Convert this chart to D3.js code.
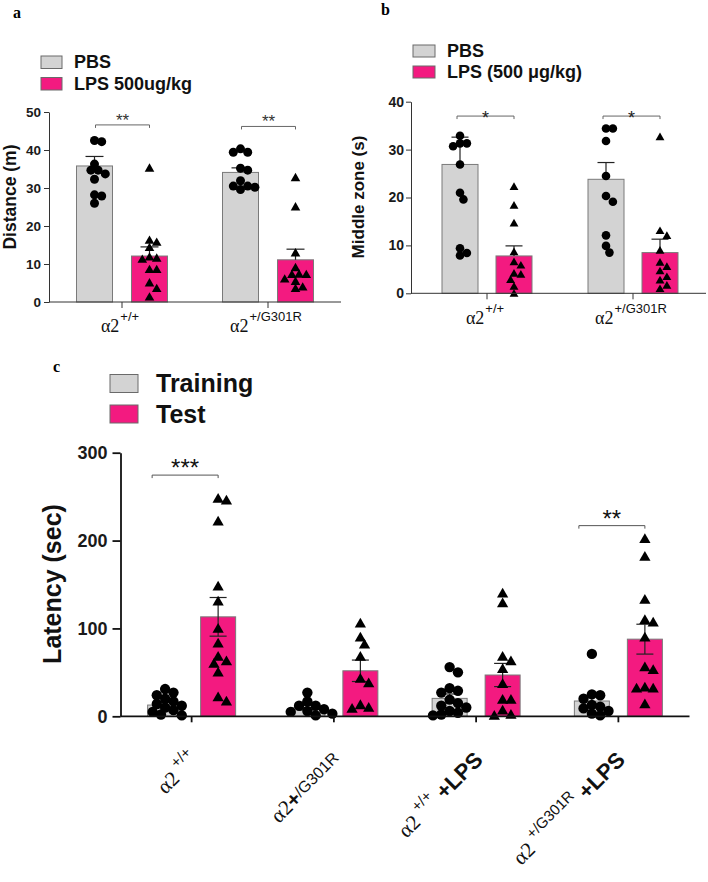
<!DOCTYPE html>
<html><head><meta charset="utf-8">
<script src="https://cdn.jsdelivr.net/npm/d3@7"></script>
<style>
body{margin:0;background:#fff}
text{font-family:Arial,"Liberation Sans",sans-serif}
</style>
</head><body><script>
// ---------------- DATA ----------------
const abGroups = ["wt", "mut"];
const abLabelParts = [
  [["α2", "base"], ["+/+", "sup"]],
  [["α2", "base"], ["+/G301R", "sup"]]
];

// panel a : Distance (m)
const aLegend = ["PBS", "LPS 500ug/kg"];
const aTicks = [0, 10, 20, 30, 40, 50];
const aPBSMean = [35.8, 34.1];
const aPBSSem = [2.5, 1.2];
const aLPSMean = [12.1, 11.1];
const aLPSSem = [2.4, 2.8];
const aPBSPts = [[42.5, 42.2, 36.3, 34.7, 33.7, 34.7, 32.3, 28.2, 27.9, 26.0],
                 [40.3, 39.4, 39.4, 35.2, 34.7, 31.9, 30.5, 29.6, 30.2, 30.5]];
const aLPSPts = [[35.3, 15.8, 16.3, 14.4, 11.9, 11.3, 11.6, 8.6, 8.6, 5.1, 3.6, 1.4],
                 [32.8, 25.1, 13.0, 9.1, 7.3, 7.3, 7.4, 6.1, 5.5, 3.6, 4.0]];
const aSig = [{g: "wt", text: "**", v: 46.6}, {g: "mut", text: "**", v: 46.2}];

// panel b : Middle zone (s)
const bLegend = ["PBS", "LPS (500 μg/kg)"];
const bTicks = [0, 10, 20, 30, 40];
const bPBSMean = [26.9, 23.8];
const bPBSSem = [5.7, 3.5];
const bLPSMean = [7.8, 8.5];
const bLPSSem = [2.1, 2.8];
const bPBSPts = [[32.9, 31.3, 30.7, 31.3, 26.9, 21.0, 19.6, 9.4, 7.9, 8.4],
                 [34.4, 34.4, 31.8, 24.5, 19.1, 20.3, 12.1, 8.5, 9.9]];
const bLPSPts = [[22.3, 18.4, 14.7, 8.7, 6.6, 5.9, 4.2, 4.0, 2.9, 1.5, 0],
                 [32.7, 13.1, 12.1, 9.0, 5.6, 6.5, 4.7, 2.8, 3.5, 1.0, 1.7]];
const bSig = [{g: "wt", text: "*", v: 37}, {g: "mut", text: "*", v: 37}];

// panel c : Latency (sec)
const cGroups = ["wt", "mut", "wtLPS", "mutLPS"];
const cLegend = ["Training", "Test"];
const cTicks = [0, 100, 200, 300];
const cTrainMean = [12.8, 9.8, 20.4, 17.4];
const cTrainSem = [3, 2.5, 5, 6];
const cTestMean = [113.2, 51.8, 47.0, 87.8];
const cTestSem = [22, 12.2, 13.2, 17];
const cTrainPts = [[31, 27, 24, 20, 17, 14, 12, 10, 7, 5, 2, 1],
                   [27, 17, 12, 12, 8, 6, 5, 3, 1],
                   [56, 50, 32, 29, 27, 19, 15, 12, 10, 6, 4, 2, 1],
                   [71, 25, 24, 20, 13, 11, 9, 6, 3, 1]];
const cTestPts = [[248, 246, 222, 148, 131, 100, 83, 68, 63, 60, 50, 22, 17],
                  [106, 90, 82, 68, 43, 38, 13, 10, 9],
                  [140, 129, 68, 63, 54, 37, 19, 19, 7, 2, 1],
                  [202, 182, 133, 110, 107, 90, 56, 53, 33, 32, 32, 14]];
const cSig = [{g: "wt", text: "***", v: 274.5}, {g: "mutLPS", text: "**", v: 217}];
const cLabelParts = [
  [["α2", "base"], ["+/+", "sup"]],
  [["α2", "base"], ["+", "plus"], ["/G301R", "mid"]],
  [["α2", "base"], ["+/+", "sup"], ["+LPS", "bold"]],
  [["α2", "base"], ["+/G301R", "sup"], ["+LPS", "bold"]]
];

// ---------------- DRAWING ----------------
const GREY = "#d3d3d3", PINK = "#f31a80", EDGE = "#7a7a7a";
const W = 708, H = 882;
const svg = d3.select("body").append("svg").attr("width", W).attr("height", H);
svg.append("rect").attr("width", W).attr("height", H).attr("fill", "#fff");

function swarm(ys, r, sep, fac) {
  const idx = ys.map((y, i) => i).sort((a, b) => ys[a] - ys[b]);
  const placed = [], off = new Array(ys.length).fill(0);
  const md = (2 * r * fac) ** 2;
  for (const i of idx) {
    for (let k = 0; k < 60; k++) {
      const m = k === 0 ? 0 : (k % 2 ? Math.ceil(k / 2) : -k / 2);
      const x = m * sep;
      if (placed.every(p => (p.x - x) ** 2 + (p.y - ys[i]) ** 2 >= md)) {
        off[i] = x; placed.push({x, y: ys[i]}); break;
      }
    }
  }
  return off;
}

// rich text: parts laid out along a baseline, each part its own text element
function rich(g, parts, styles, anchor) {
  let x = 0; const nodes = [];
  parts.forEach(([txt, k]) => {
    const st = styles[k];
    x += st.gap || 0;
    const t = g.append("text").attr("x", x).attr("y", -st.raise)
      .style("font-family", st.ff).attr("font-size", st.fs).attr("font-weight", st.fw)
      .attr("fill", "#111").text(txt);
    x += t.node().getComputedTextLength();
    nodes.push(t);
  });
  const shift = anchor === "end" ? -x : anchor === "middle" ? -x / 2 : 0;
  nodes.forEach(t => t.attr("x", +t.attr("x") + shift));
}

function panel(o) {
  const g = svg.append("g");
  const cx = (c, si) => o.x(c) + o.x.bandwidth() / 2 + o.offs[si];
  o.series.forEach((s, si) => {
    g.selectAll(null).data(o.cats).enter().append("rect")
      .attr("x", (c) => cx(c, si) - o.bw / 2)
      .attr("y", (c, i) => o.y(s.mean[i]))
      .attr("width", o.bw)
      .attr("height", (c, i) => o.y(0) - o.y(s.mean[i]))
      .attr("fill", s.fill).attr("stroke", EDGE).attr("stroke-width", 1);
  });
  o.series.forEach((s, si) => {
    o.cats.forEach((c, i) => {
      const x = cx(c, si);
      const lo = o.errBoth ? s.mean[i] - s.sem[i] : s.mean[i];
      const hi = s.mean[i] + s.sem[i];
      g.append("line").attr("x1", x).attr("x2", x).attr("y1", o.y(lo)).attr("y2", o.y(hi))
        .attr("stroke", "#222").attr("stroke-width", 1.2);
      g.append("line").attr("x1", x - o.capW / 2).attr("x2", x + o.capW / 2)
        .attr("y1", o.y(hi)).attr("y2", o.y(hi)).attr("stroke", "#222").attr("stroke-width", 1.2);
      if (o.errBoth) {
        g.append("line").attr("x1", x - o.capW / 2).attr("x2", x + o.capW / 2)
          .attr("y1", o.y(lo)).attr("y2", o.y(lo)).attr("stroke", "#222").attr("stroke-width", 1.2);
      }
    });
  });
  o.series.forEach((s, si) => {
    o.cats.forEach((c, i) => {
      const vals = s.pts[i];
      const ys = vals.map(v => o.y(v));
      const offs = swarm(ys, o.r, o.r * 0.8, 0.78);
      const sym = s.shape === "tri"
        ? d3.symbol().type(d3.symbolTriangle).size(o.triSize)
        : d3.symbol().type(d3.symbolCircle).size(Math.PI * o.r * o.r);
      g.selectAll(null).data(vals).enter().append("path")
        .attr("d", sym)
        .attr("transform", (v, j) => `translate(${cx(c, si) + offs[j]},${ys[j] + (s.shape === "tri" ? 1 : 0)})`)
        .attr("fill", "#000");
    });
  });
  const ya = g.append("g").attr("transform", `translate(${o.x0},0)`)
    .call(d3.axisLeft(o.y).tickValues(o.ticks).tickSize(o.tickLen).tickSizeOuter(0).tickPadding(o.tickPad));
  ya.select(".domain").attr("stroke", o.axisColor).attr("stroke-width", o.axisW);
  ya.selectAll(".tick line").attr("stroke", o.axisColor).attr("stroke-width", o.axisW);
  ya.selectAll(".tick text").attr("font-size", o.tickFont).attr("font-weight", "bold")
    .attr("fill", "#1a1a1a").style("font-family", "Arial, 'Liberation Sans', sans-serif");
  const xa = g.append("g").attr("transform", `translate(0,${o.y(0)})`)
    .call(d3.axisBottom(o.x).tickSize(6).tickSizeOuter(0).tickFormat(""));
  xa.select(".domain").remove();
  xa.selectAll(".tick line").attr("stroke", o.axisColor).attr("stroke-width", o.axisW);
  g.append("line").attr("x1", o.x0).attr("x2", o.x1).attr("y1", o.y(0)).attr("y2", o.y(0))
    .attr("stroke", o.axisColor).attr("stroke-width", o.axisW);
  o.sig.forEach(sg => {
    const xl = cx(sg.g, 0) + o.sigOff, xr = cx(sg.g, 1);
    const yy = o.y(sg.v);
    g.append("path").attr("d", `M${xl},${yy + 3}V${yy}H${xr}V${yy + 3}`)
      .attr("fill", "none").attr("stroke", o.sigColor).attr("stroke-width", 1);
    g.append("text").attr("x", (xl + xr) / 2).attr("y", yy + o.sigDy)
      .attr("text-anchor", "middle").attr("font-size", o.sigFont).attr("fill", o.sigTextColor)
      .text(sg.text);
  });
  svg.append("text").attr("transform", `translate(${o.titleX},${o.titleY}) rotate(-90)`)
    .attr("text-anchor", "middle").attr("font-weight", "bold").attr("font-size", o.titleFont)
    .attr("fill", "#111").text(o.title);
  return cx;
}

function legend(x, y0, dy, bw, bh, fs, labels, textX) {
  [GREY, PINK].forEach((f, i) => {
    svg.append("rect").attr("x", x).attr("y", y0 + i * dy).attr("width", bw).attr("height", bh)
      .attr("fill", f).attr("stroke", "#6a6a6a").attr("stroke-width", 1);
    svg.append("text").attr("x", textX).attr("y", y0 + i * dy + bh - 0.5)
      .attr("font-size", fs).attr("font-weight", "bold").attr("fill", "#111").text(labels[i]);
  });
}

const SERIF = "'Liberation Serif', 'DejaVu Serif', serif";
const SANS = "Arial, 'Liberation Sans', sans-serif";
const abStyle = {
  base: {ff: SERIF, fs: 18, fw: "normal", raise: 0},
  sup: {ff: SANS, fs: 13, fw: "normal", raise: 11, gap: 1}
};
function abLabels(x, yBase) {
  abGroups.forEach((c, i) => {
    const g = svg.append("g").attr("transform", `translate(${x(c) + x.bandwidth() / 2 - 2},${yBase})`);
    rich(g, abLabelParts[i], abStyle, "middle");
  });
}

// ---- panel a ----
const yA = d3.scaleLinear().domain([0, 50]).range([302, 112]);
const xA = d3.scaleBand().domain(abGroups).range([49, 341]);
panel({
  x: xA, y: yA, cats: abGroups, x0: 49, x1: 341, offs: [-27.5, 27.5], bw: 36, capW: 18,
  series: [
    {mean: aPBSMean, sem: aPBSSem, pts: aPBSPts, fill: GREY, shape: "circle"},
    {mean: aLPSMean, sem: aLPSSem, pts: aLPSPts, fill: PINK, shape: "tri"}
  ],
  r: 4.5, triSize: 40, ticks: aTicks, tickLen: 5, tickPad: 3, tickFont: 13.5,
  axisColor: "#333", axisW: 1, errBoth: false,
  sig: aSig, sigOff: 1, sigDy: 1, sigFont: 17, sigColor: "#666", sigTextColor: "#333",
  title: "Distance (m)", titleX: 15.5, titleY: 197, titleFont: 17.5
});
legend(41, 56, 21.5, 21, 12.5, 18, aLegend, 74);
abLabels(xA, 332);
svg.append("text").attr("x", 13).attr("y", 18).attr("font-size", 16).attr("font-weight", "bold")
  .style("font-family", SERIF).text("a");

// ---- panel b ----
const yB = d3.scaleLinear().domain([0, 40]).range([293.3, 101.7]);
const xB = d3.scaleBand().domain(abGroups).range([414, 706]);
panel({
  x: xB, y: yB, cats: abGroups, x0: 411, x1: 706, offs: [-27, 27], bw: 36, capW: 17,
  series: [
    {mean: bPBSMean, sem: bPBSSem, pts: bPBSPts, fill: GREY, shape: "circle"},
    {mean: bLPSMean, sem: bLPSSem, pts: bLPSPts, fill: PINK, shape: "tri"}
  ],
  r: 4.3, triSize: 34, ticks: bTicks, tickLen: 5, tickPad: 2, tickFont: 14,
  axisColor: "#333", axisW: 1, errBoth: false,
  sig: bSig, sigOff: -3, sigDy: 8, sigFont: 18, sigColor: "#666", sigTextColor: "#222",
  title: "Middle zone (s)", titleX: 364, titleY: 197, titleFont: 17
});
legend(413, 45, 21, 22, 12, 18, bLegend, 447);
abLabels(xB, 324);
svg.append("text").attr("x", 381).attr("y", 15).attr("font-size", 16).attr("font-weight", "bold")
  .style("font-family", SERIF).text("b");

// ---- panel c ----
const yC = d3.scaleLinear().domain([0, 300]).range([716.3, 452.7]);
const xC = d3.scaleBand().domain(cGroups).range([120.5, 689.5]);
panel({
  x: xC, y: yC, cats: cGroups, x0: 120.5, x1: 689.5, offs: [-26.5, 26.5], bw: 35, capW: 17,
  series: [
    {mean: cTrainMean, sem: cTrainSem, pts: cTrainPts, fill: GREY, shape: "circle"},
    {mean: cTestMean, sem: cTestSem, pts: cTestPts, fill: PINK, shape: "tri"}
  ],
  r: 5.2, triSize: 55, ticks: cTicks, tickLen: 8, tickPad: 5, tickFont: 18,
  axisColor: "#111", axisW: 1.8, errBoth: true,
  sig: cSig, sigOff: -13, sigDy: 1, sigFont: 24, sigColor: "#555", sigTextColor: "#111",
  title: "Latency (sec)", titleX: 61, titleY: 584, titleFont: 25
});
legend(110, 374.5, 30.5, 28, 18, 25, cLegend, 156);
svg.append("text").attr("x", 53).attr("y", 372).attr("font-size", 16).attr("font-weight", "bold")
  .style("font-family", SERIF).text("c");

const cStyle = {
  base: {ff: SERIF, fs: 21, fw: "normal", raise: 0},
  sup: {ff: SANS, fs: 15, fw: "normal", raise: 11, gap: 5},
  bold: {ff: SANS, fs: 22, fw: "bold", raise: 0, gap: 6},
  plus: {ff: SANS, fs: 21, fw: "bold", raise: 0},
  mid: {ff: SANS, fs: 16, fw: "normal", raise: 3}
};
cGroups.forEach((c, i) => {
  const x = xC(c) + xC.bandwidth() / 2 + 8;
  const g = svg.append("g").attr("transform", `translate(${x},761) rotate(-45)`);
  rich(g, cLabelParts[i], cStyle, "end");
});
</script></body></html>
